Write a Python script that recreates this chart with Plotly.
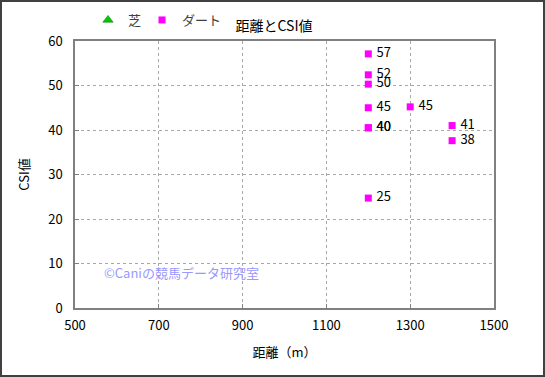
import plotly.graph_objects as go

# Data
turf_dist = [None]
turf_csi = [None]
dirt_dist = [1200, 1200, 1200, 1200, 1200, 1200, 1200, 1300, 1400, 1400]
dirt_csi = [57.1, 52.4, 50.3, 45.0, 40.5, 40.5, 24.7, 45.2, 41.0, 37.6]
dirt_labels = ["57", "52", "50", "45", "40", "40", "25", "45", "41", "38"]
x_ticks = [500, 700, 900, 1100, 1300, 1500]
y_ticks = [0, 10, 20, 30, 40, 50, 60]

W, H = 545, 377
ML, MR, MT, MB = 75, 51, 41, 69
PW, PH = W - ML - MR, H - MT - MB
FONT = "Noto Sans CJK JP"

fig = go.Figure()
fig.add_trace(go.Scatter(
    x=turf_dist, y=turf_csi, mode="markers", name="芝", legend="legend",
    marker=dict(symbol="triangle-up", color="#00CC00", size=9,
                line=dict(color="#006600", width=0.5)),
))
fig.add_trace(go.Scatter(
    x=dirt_dist, y=dirt_csi, mode="markers+text", name="ダート", legend="legend2",
    text=[" " + t for t in dirt_labels], textposition="middle right",
    textfont=dict(family=FONT, size=13, color="black"),
    marker=dict(symbol="square", color="#FF00FF", size=7),
    cliponaxis=False,
))

leg_common = dict(orientation="h", xanchor="left", y=1 + (MT - 20) / PH,
                  yanchor="middle", itemwidth=30,
                  font=dict(family=FONT, size=13, color="#404040"),
                  bgcolor="rgba(0,0,0,0)")

fig.update_layout(
    width=W, height=H,
    margin=dict(l=ML, r=MR, t=MT, b=MB, autoexpand=False),
    paper_bgcolor="white", plot_bgcolor="white",
    font=dict(family=FONT, size=12, color="black"),
    title=dict(text="距離とCSI値", x=274 / W, xanchor="center",
               y=1 - 26 / H, yanchor="middle",
               font=dict(family=FONT, size=14, color="black")),
    showlegend=True,
    legend=dict(x=(88 - ML) / PW, **leg_common),
    legend2=dict(x=(142 - ML) / PW, **leg_common),
    xaxis=dict(range=[500, 1500], tickvals=x_ticks, ticks="inside", ticklen=4,
               tickcolor="#808080", showgrid=True, gridcolor="#A8A8A8",
               griddash="dot", gridwidth=1, showline=True, linecolor="#808080",
               linewidth=1.5, mirror=True, zeroline=False,
               ticklabelstandoff=5,
               title=dict(text="距離（m）", standoff=15,
                          font=dict(family=FONT, size=13)),
               tickfont=dict(family=FONT, size=13)),
    yaxis=dict(range=[0, 60], tickvals=y_ticks, ticks="inside", ticklen=4,
               tickcolor="#808080", showgrid=True, gridcolor="#A8A8A8",
               griddash="dot", gridwidth=1, showline=True, linecolor="#808080",
               linewidth=1.5, mirror=True, zeroline=False,
               ticklabelstandoff=8,
               title=dict(text="CSI値", standoff=16,
                          font=dict(family=FONT, size=13)),
               tickfont=dict(family=FONT, size=13)),
    annotations=[dict(text="©Caniの競馬データ研究室", xref="paper", yref="paper",
                      x=(102 - ML) / PW, y=(308 - 272) / PH, xanchor="left",
                      yanchor="middle", showarrow=False,
                      font=dict(family=FONT, size=13, color="#9999FF"))],
    shapes=[dict(type="rect", xref="paper", yref="paper",
                 x0=(1 - ML) / PW, x1=(W - 1 - ML) / PW,
                 y0=-(MB - 1) / PH, y1=1 + (MT - 1) / PH,
                 line=dict(color="#404040", width=2), layer="above")],
)

fig.write_html("out.html", config={"displayModeBar": False},
               post_script="document.body.style.margin='0px';document.body.style.overflow='hidden';")
